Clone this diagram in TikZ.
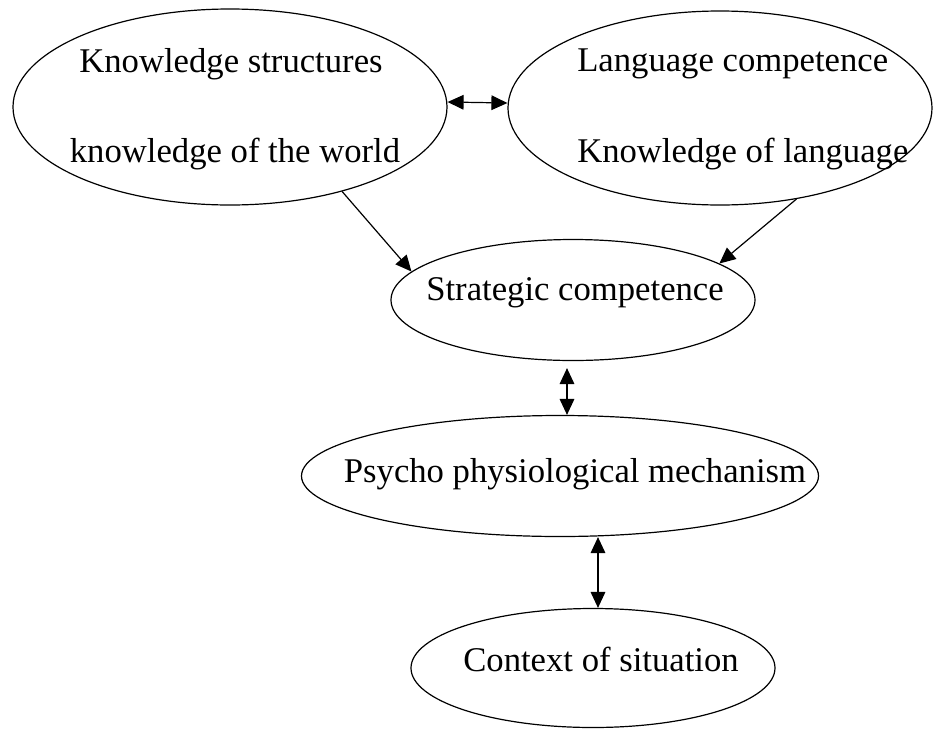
\documentclass[tikz,border=0pt]{standalone}
\usepackage{fontspec}
\setmainfont{Liberation Serif}
\usetikzlibrary{positioning,arrows.meta,shapes.geometric}

\begin{document}
\begin{tikzpicture}[
  x=0.75pt, y=-0.75pt,
  font=\fontsize{26}{31}\selectfont,
  bubble/.style={ellipse, draw=black, line width=0.9pt, inner sep=0pt},
  txt/.style={inner sep=0pt},
  link/.style={line width=0.9pt, -{Triangle[length=12pt,width=11pt]}},
  duallink/.style={line width=0.9pt, {Triangle[length=12pt,width=11pt]}-{Triangle[length=12pt,width=11pt]}}
]
\useasboundingbox (0,0) rectangle (933,729);

% ellipses
\node[bubble, minimum width=325.5pt, minimum height=147pt] (world) at (230,107) {};
\node[bubble, minimum width=318pt, minimum height=145.5pt] (lang) at (720,108) {};
\node[bubble, minimum width=273pt, minimum height=90.75pt] (strat) at (573,300) {};
\node[bubble, minimum width=387.75pt, minimum height=90.75pt] (psy) at (560,476) {};
\node[bubble, minimum width=273pt, minimum height=89.25pt] (ctx) at (593,668) {};

% texts
\node[txt] (worldA) at (231,64) {Knowledge structures};
\node[txt] (worldB) at (235,154) {knowledge of the world};
\node[txt, anchor=west] (langA) at (577,64) {Language competence};
\node[txt, anchor=west] (langB) at (577,154) {Knowledge of language};
\node[txt] (stratT) at (575,293) {Strategic competence};
\node[txt] (psyT) at (575,474) {Psycho physiological mechanism};
\node[txt] (ctxT) at (601,659) {Context of situation};

% connectors
\draw[duallink] ([yshift=3.75pt]world.east) -- ([yshift=3.75pt]lang.west);
\draw[link] (world.-37) -- (strat.170);
\draw[link] (lang.-50) -- (strat.14);
\draw[duallink] ([xshift=-4.5pt,yshift=-5.25pt]strat.south) -- ([xshift=-4.5pt]strat.south |- psy.north);
\draw[duallink] ([xshift=3.75pt]ctx.north |- psy.south) -- ([xshift=3.75pt]ctx.north);
\end{tikzpicture}
\end{document}
